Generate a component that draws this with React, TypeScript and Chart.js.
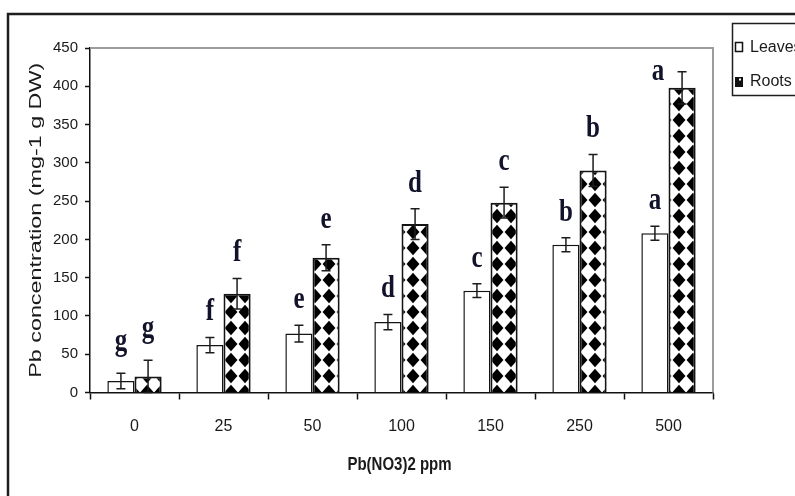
import React, { useEffect, useRef } from "react";
import { Chart, registerables } from "chart.js";

Chart.register(...registerables);

// ---- data ----
const categories = ["0", "25", "50", "100", "150", "250", "500"];
const leavesValues = [15, 62, 77, 92, 133, 193, 208];
const leavesErrors = [10, 10, 11, 10, 9, 9, 9];
const rootsValues = [21, 129, 176, 220, 248, 290, 398];
const rootsErrors = [21, 20, 17, 20, 20, 21, 21];
const leavesLetters = ["g", "f", "e", "d", "c", "b", "a"];
const rootsLetters = ["g", "f", "e", "d", "c", "b", "a"];
const seriesNames = ["Leaves", "Roots"];
const yMin = 0;
const yMax = 450;
const yStep = 50;
const xTitle = "Pb(NO3)2 ppm";
const yTitle = "Pb concentration (mg-1 g DW)";

const SANS = "'Liberation Sans', Arial, sans-serif";
const SERIF = "'Liberation Serif', 'Times New Roman', serif";

function makeDiamondPattern(): CanvasPattern | string {
  const c = document.createElement("canvas");
  const w = 14;
  const h = 16;
  c.width = w;
  c.height = h;
  const g = c.getContext("2d");
  if (!g) return "#000";
  g.fillStyle = "#ffffff";
  g.fillRect(0, 0, w, h);
  g.fillStyle = "#000000";
  const k = 0.92;
  g.beginPath();
  g.moveTo(w / 2, h / 2 - (h / 2) * k);
  g.lineTo(w / 2 + (w / 2) * k, h / 2);
  g.lineTo(w / 2, h / 2 + (h / 2) * k);
  g.lineTo(w / 2 - (w / 2) * k, h / 2);
  g.closePath();
  g.fill();
  const p = g.createPattern(c, "repeat");
  return p || "#000";
}

const errorsBySeries = [leavesErrors, rootsErrors];
const lettersBySeries = [leavesLetters, rootsLetters];

const decorPlugin = {
  id: "decor",
  beforeDatasetsDraw(chart: any) {
    const { ctx, chartArea: a } = chart;
    ctx.save();
    ctx.strokeStyle = "#9c9c9c";
    ctx.lineWidth = 2;
    ctx.beginPath();
    ctx.moveTo(a.left, a.top);
    ctx.lineTo(a.right, a.top);
    ctx.lineTo(a.right, a.bottom);
    ctx.stroke();
    ctx.restore();
  },
  afterDatasetsDraw(chart: any) {
    const { ctx, chartArea: a } = chart;
    const yScale = chart.scales.y;
    ctx.save();
    chart.data.datasets.forEach((ds: any, di: number) => {
      const meta = chart.getDatasetMeta(di);
      const errs = errorsBySeries[di];
      const letters = lettersBySeries[di];
      meta.data.forEach((bar: any, i: number) => {
        const v = ds.data[i];
        const e = errs[i];
        const x = bar.x;
        const yTop = yScale.getPixelForValue(v + e);
        const yBot = yScale.getPixelForValue(Math.max(0, v - e));
        // error bar
        ctx.strokeStyle = "#1c1c1c";
        ctx.lineWidth = 1.5;
        ctx.beginPath();
        ctx.moveTo(x, yTop);
        ctx.lineTo(x, yBot);
        ctx.moveTo(x - 4.5, yTop);
        ctx.lineTo(x + 4.5, yTop);
        ctx.moveTo(x - 4.5, yBot);
        ctx.lineTo(x + 4.5, yBot);
        ctx.stroke();
        // significance letter
        const t = letters[i];
        ctx.font = `bold 25px ${SERIF}`;
        const m = ctx.measureText(t);
        const desc = m.actualBoundingBoxDescent || 0;
        const asc = (m.actualBoundingBoxAscent || 12) * 1.3;
        let lx = x;
        let ly = yTop - 17;
        if (ly - asc < a.top + 8) {
          // not enough room above: place it beside the error bar
          lx = x - 24;
          ly = yTop + 8;
        }
        ctx.save();
        ctx.translate(lx, ly);
        ctx.scale(1, 1.3);
        ctx.fillStyle = "#12122a";
        ctx.textAlign = "center";
        ctx.textBaseline = "alphabetic";
        ctx.fillText(t, 0, -desc);
        ctx.restore();
      });
    });
    ctx.restore();
  },
  afterDraw(chart: any) {
    const { ctx, chartArea: a } = chart;
    ctx.save();
    // outer frame
    ctx.strokeStyle = "#1e1e1e";
    ctx.lineWidth = 2.5;
    ctx.beginPath();
    ctx.moveTo(8, 500);
    ctx.lineTo(8, 14);
    ctx.lineTo(800, 14);
    ctx.stroke();

    // y-axis title (stretched along its length)
    ctx.font = `16px ${SANS}`;
    const w = ctx.measureText(yTitle).width;
    const targetLen = 315;
    ctx.save();
    ctx.translate(41, (a.top + a.bottom) / 2);
    ctx.rotate(-Math.PI / 2);
    ctx.scale(targetLen / w, 1);
    ctx.fillStyle = "#1a1a1a";
    ctx.textAlign = "center";
    ctx.textBaseline = "alphabetic";
    ctx.fillText(yTitle, 0, 0);
    ctx.restore();

    // x-axis title
    ctx.save();
    ctx.font = `bold 15px ${SANS}`;
    ctx.translate((a.left + a.right) / 2 - 2, 470);
    ctx.scale(1, 1.25);
    ctx.fillStyle = "#1a1a1a";
    ctx.textAlign = "center";
    ctx.textBaseline = "alphabetic";
    ctx.fillText(xTitle, 0, 0);
    ctx.restore();

    // legend
    ctx.strokeStyle = "#1e1e1e";
    ctx.lineWidth = 1.5;
    ctx.strokeRect(732.5, 23.5, 120, 72);
    ctx.font = `16px ${SANS}`;
    ctx.textAlign = "left";
    ctx.textBaseline = "middle";
    // Leaves marker
    ctx.fillStyle = "#ffffff";
    ctx.fillRect(735.5, 42.5, 7, 9);
    ctx.strokeStyle = "#111";
    ctx.lineWidth = 1.5;
    ctx.strokeRect(735.5, 42.5, 7, 9);
    ctx.fillStyle = "#1a1a1a";
    ctx.fillText(seriesNames[0], 750, 47.5);
    // Roots marker
    ctx.fillStyle = "#111";
    ctx.fillRect(735, 77, 8, 10);
    ctx.fillStyle = "#ffffff";
    ctx.fillRect(739, 78.5, 2, 2);
    ctx.fillStyle = "#1a1a1a";
    ctx.fillText(seriesNames[1], 750, 82);
    ctx.restore();
  },
};

export default function App() {
  const ref = useRef<HTMLCanvasElement | null>(null);

  useEffect(() => {
    document.body.style.margin = "0";
    const canvas = ref.current;
    if (!canvas) return;
    const pattern = makeDiamondPattern();
    const chart = new Chart(canvas, {
      type: "bar",
      data: {
        labels: categories,
        datasets: [
          {
            label: seriesNames[0],
            data: leavesValues,
            backgroundColor: "#ffffff",
            borderColor: "#141414",
            borderWidth: 1.5,
            barPercentage: 1,
            categoryPercentage: 0.61,
          },
          {
            label: seriesNames[1],
            data: rootsValues,
            backgroundColor: pattern as any,
            borderColor: "#141414",
            borderWidth: 2,
            barPercentage: 1,
            categoryPercentage: 0.61,
          },
        ],
      },
      options: {
        animation: false,
        responsive: true,
        maintainAspectRatio: false,
        devicePixelRatio: 1,
        layout: { padding: { left: 0, top: 48, right: 82, bottom: 0 } },
        plugins: {
          legend: { display: false },
          tooltip: { enabled: false },
          title: { display: false },
        },
        scales: {
          x: {
            type: "category",
            offset: true,
            grid: {
              display: true,
              drawOnChartArea: false,
              drawTicks: true,
              tickLength: 7,
              tickWidth: 1.5,
              tickColor: "#111",
              offset: true,
            },
            border: { display: true, color: "#111", width: 1.5 },
            ticks: {
              color: "#1a1a1a",
              font: { family: SANS, size: 16 },
              padding: 17,
              maxRotation: 0,
            },
            afterFit: (s: any) => {
              s.height = 103.5;
            },
          },
          y: {
            min: yMin,
            max: yMax,
            grid: {
              display: true,
              drawOnChartArea: false,
              drawTicks: true,
              tickLength: 5,
              tickWidth: 1.5,
              tickColor: "#111",
            },
            border: { display: true, color: "#111", width: 1.5 },
            ticks: {
              stepSize: yStep,
              color: "#1a1a1a",
              font: { family: SANS, size: 15 },
              padding: 7,
            },
            afterFit: (s: any) => {
              s.width = 90;
            },
          },
        },
      },
      plugins: [decorPlugin],
    });
    return () => chart.destroy();
  }, []);

  return (
    <div
      style={{
        position: "fixed",
        left: 0,
        top: 0,
        width: 795,
        height: 496,
        background: "#ffffff",
      }}
    >
      <canvas ref={ref} />
    </div>
  );
}
